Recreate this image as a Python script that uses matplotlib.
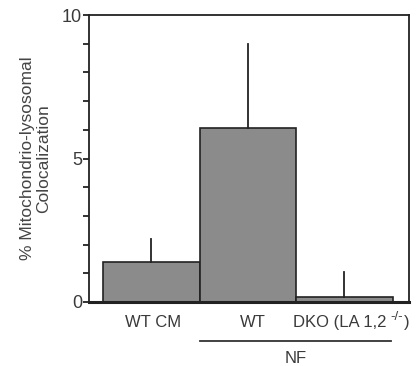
import matplotlib
matplotlib.use("Agg")
import matplotlib.pyplot as plt

plt.rcParams['font.family'] = ['Liberation Sans', 'DejaVu Sans']

groups = ["WT CM", "WT", "DKO (LA 1,2"]
group_sup = "-/-"
means = [1.4, 6.05, 0.18]
errors = [0.8, 2.95, 0.85]
yticks = [0, 5, 10]

txt = "#3a3a3a"
fig = plt.figure(figsize=(4.19, 3.66), dpi=100)
ax = fig.add_axes([89 / 419, 1 - 302 / 366, 320 / 419, 287 / 366])

x = list(range(len(groups)))
ax.bar(x, means, width=1.0, color="#8b8b8b", edgecolor="#222222", linewidth=1.2)
for xi, m, e in zip(x, means, errors):
    ax.plot([xi, xi], [m, m + e], color="#222222", linewidth=1.3)

ax.set_xlim(-0.645, 2.67)
ax.set_ylim(0, 10)
ax.set_yticks(yticks)
ax.set_yticks(range(0, 11), minor=True)
ax.set_xticks([])
ax.tick_params(axis="y", which="both", direction="out", length=4, width=1.3,
               labelsize=13, pad=1, color="#222222", labelcolor=txt)
for s in ax.spines.values():
    s.set_linewidth(1.3)
    s.set_color("#222222")
ax.spines["bottom"].set_linewidth(2.2)

ax.set_ylabel("% Mitochondrio-lysosomal\nColocalization", fontsize=12.5,
              color="#444444", labelpad=8, linespacing=1.05)

# group labels beneath the bars
lab_y = -0.72
ax.text(0.02, lab_y, groups[0], ha="center", va="center", fontsize=12, color=txt)
ax.text(1.05, lab_y, groups[1], ha="center", va="center", fontsize=12, color=txt)
t = ax.text(1.47, lab_y, groups[2], ha="left", va="center", fontsize=12, color=txt)
s = ax.annotate(group_sup, xy=(1.0, 0.5), xycoords=t, xytext=(3, 0),
                textcoords="offset points", ha="left", va="bottom",
                fontsize=9.5, color=txt)
ax.annotate(")", xy=(1.0, 0.0), xycoords=(s, t), xytext=(0.5, 0),
            textcoords="offset points", ha="left", va="bottom",
            fontsize=12, color=txt)
ax.plot([0.5, 2.48], [-1.37, -1.37], color="#333333", linewidth=1.3,
        clip_on=False)
ax.text(1.5, -1.98, "NF", ha="center", va="center", fontsize=12, color=txt)

fig.savefig("out.png", dpi=100)
